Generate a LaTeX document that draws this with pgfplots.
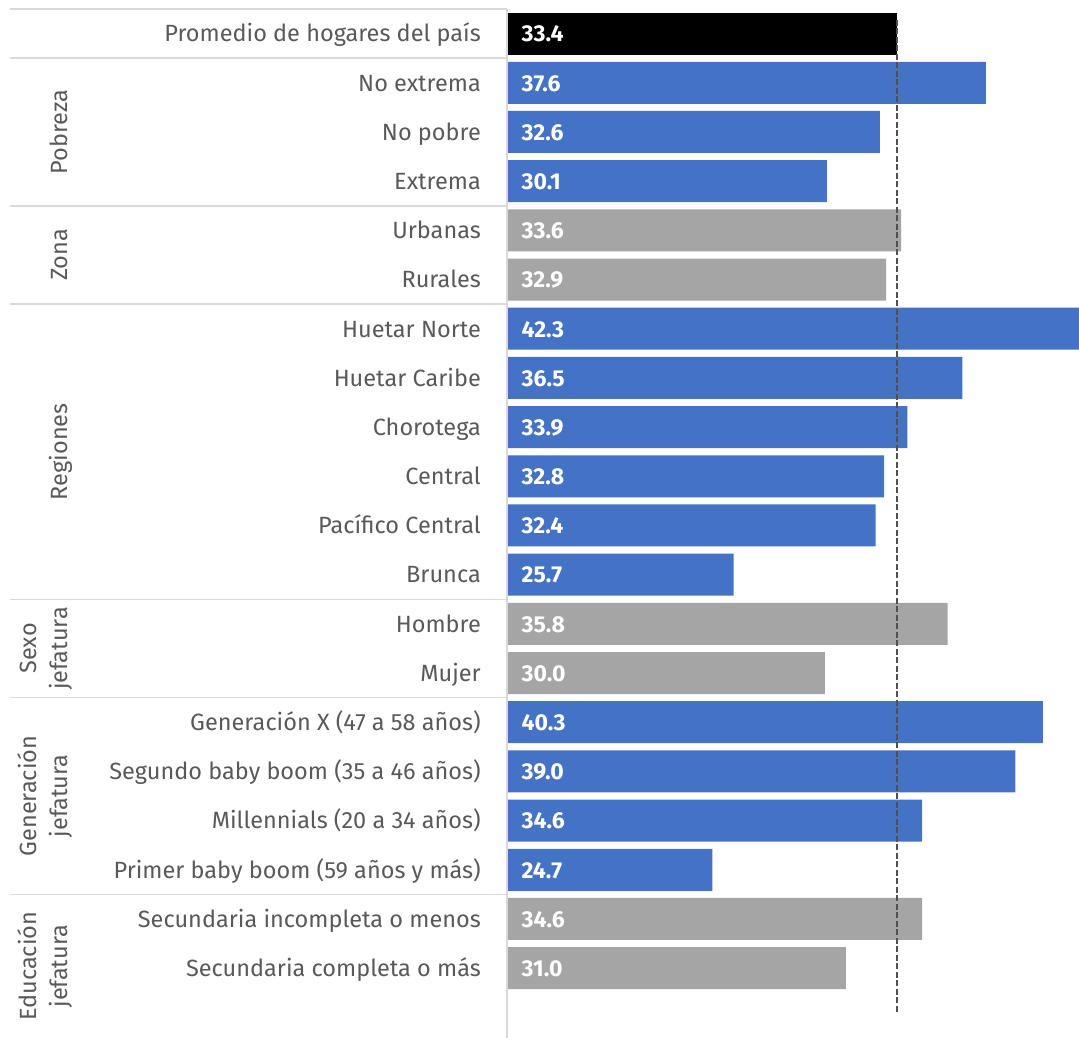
\documentclass[border=0pt]{standalone}
\usepackage{fontspec}
\setmainfont{Fira Sans}
\usepackage{pgfplots}
\pgfplotsset{compat=1.18}
\usepackage{pgfplotstable}
\usetikzlibrary{calc}
\definecolor{cblue}{HTML}{4472C4}
\definecolor{cgray}{HTML}{A5A5A5}
\definecolor{ctext}{HTML}{595959}
\definecolor{csep}{HTML}{D9D9D9}
\definecolor{cdash}{HTML}{505050}

% row index (0 = top), value
\pgfplotstableread{
y v
0 33.4
}\tblack
\pgfplotstableread{
y v
1 37.6
2 32.6
3 30.1
6 42.3
7 36.5
8 33.9
9 32.8
10 32.4
11 25.7
14 40.3
15 39.0
16 34.6
17 24.7
}\tblue
\pgfplotstableread{
y v
4 33.6
5 32.9
12 35.8
13 30.0
18 34.6
19 31.0
}\tgray

\newcommand{\lblfont}{\fontsize{23.5}{28}\selectfont}
\newcommand{\valfont}{\bfseries\fontsize{23}{27}\selectfont}

\begin{document}
\begin{tikzpicture}
\useasboundingbox (-507pt,0pt) rectangle (572pt,1038pt);
\begin{axis}[
  at={(0pt,0pt)}, anchor=south west,
  scale only axis, width=572pt, height=1029pt,
  xmin=15, xmax=42, ymin=-0.5, ymax=20.42, y dir=reverse,
  axis line style={draw=none},
  xtick=\empty,
  ytick={0,...,19},
  yticklabels={
    {Promedio de hogares del país},
    {No extrema},{No pobre},{Extrema},
    {Urbanas},{Rurales},
    {Huetar Norte},{Huetar Caribe},{Chorotega},{Central},{Pacífico Central},{Brunca},
    {Hombre},{Mujer},
    {Generación X (47 a 58 años)},{Segundo baby boom (35 a 46 años)},{Millennials (20 a 34 años)},{Primer baby boom (59 años y más)},
    {Secundaria incompleta o menos},{Secundaria completa o más}},
  major tick length=0pt,
  yticklabel style={font=\lblfont, text=ctext, anchor=base east, inner sep=0pt, xshift=-26pt, yshift=-8.3pt},
  clip mode=individual,
  every node near coord/.append style={anchor=base west, inner sep=0pt, xshift=14.5pt, yshift=-8.3pt, text=white, font=\valfont},
]
\addplot[xbar, bar width=42pt, bar shift=0pt, fill=black, draw=none] table[x=v, y=y]{\tblack};
\addplot[xbar, bar width=42pt, bar shift=0pt, fill=cblue, draw=none] table[x=v, y=y]{\tblue};
\addplot[xbar, bar width=42pt, bar shift=0pt, fill=cgray, draw=none] table[x=v, y=y]{\tgray};

\addplot[draw=none, mark=none, nodes near coords, point meta=explicit symbolic] table[x expr=15, y=y, meta=v]{\tblack};
\addplot[draw=none, mark=none, nodes near coords, point meta=explicit symbolic] table[x expr=15, y=y, meta=v]{\tblue};
\addplot[draw=none, mark=none, nodes near coords, point meta=explicit symbolic] table[x expr=15, y=y, meta=v]{\tgray};

\addplot[cdash, line width=1.5pt, dash pattern=on 6pt off 2.5pt] coordinates {(33.4,-0.28) (33.4,19.92)};

\pgfplotsinvokeforeach{-0.5,0.5,3.5,5.5,11.5,13.5,17.5}{
  \draw[csep, line width=1.5pt] (axis cs:15,#1) -- ++(-497pt,0pt);
}
\draw[csep, line width=1.5pt] (rel axis cs:0,0) -- (rel axis cs:0,1);

\node[rotate=90, anchor=base, text=ctext, font=\lblfont, inner sep=0pt] at ($(axis cs:15,2)+(-439pt,0pt)$) {Pobreza};
\node[rotate=90, anchor=base, text=ctext, font=\lblfont, inner sep=0pt] at ($(axis cs:15,4.5)+(-439pt,0pt)$) {Zona};
\node[rotate=90, anchor=base, text=ctext, font=\lblfont, inner sep=0pt] at ($(axis cs:15,8.5)+(-439pt,0pt)$) {Regiones};
\node[rotate=90, anchor=base, text=ctext, font=\lblfont, inner sep=0pt] at ($(axis cs:15,12.5)+(-470pt,0pt)$) {Sexo};
\node[rotate=90, anchor=base, text=ctext, font=\lblfont, inner sep=0pt] at ($(axis cs:15,12.5)+(-439pt,0pt)$) {jefatura};
\node[rotate=90, anchor=base, text=ctext, font=\lblfont, inner sep=0pt] at ($(axis cs:15,15.5)+(-470pt,0pt)$) {Generación};
\node[rotate=90, anchor=base, text=ctext, font=\lblfont, inner sep=0pt] at ($(axis cs:15,15.5)+(-439pt,0pt)$) {jefatura};
\node[rotate=90, anchor=base, text=ctext, font=\lblfont, inner sep=0pt] at ($(axis cs:15,18.96)+(-470pt,0pt)$) {Educación};
\node[rotate=90, anchor=base, text=ctext, font=\lblfont, inner sep=0pt] at ($(axis cs:15,18.96)+(-439pt,0pt)$) {jefatura};
\end{axis}
\end{tikzpicture}
\end{document}
